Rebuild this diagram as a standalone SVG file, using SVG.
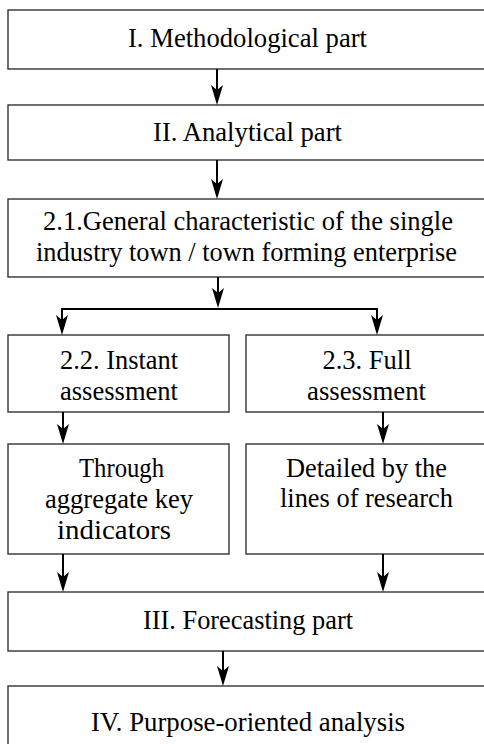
<svg xmlns="http://www.w3.org/2000/svg" width="484" height="744" viewBox="0 0 484 744">
<defs>
<style>
.box{fill:#fff;stroke:#333;stroke-width:1.4}
.t{font-family:'Liberation Serif','Times New Roman',serif;font-size:26.5px;fill:#000;text-anchor:middle}
.c{fill:none;stroke:#000;stroke-width:2}
</style>
<marker id="ah" viewBox="-14 -7 23 14" refX="0" refY="0" markerWidth="23" markerHeight="14" markerUnits="userSpaceOnUse" orient="auto">
<path d="M8,0 L-12,-6 L-7,0 L-12,6 Z" fill="#000"/>
</marker>
</defs>
<rect x="0" y="0" width="484" height="744" fill="#fff"/>
<g font-family="Liberation Serif, serif">
<g id="n1">
<rect class="box" x="8" y="10" width="480" height="59"/>
<text class="t" x="247.5" y="46.5" textLength="239" lengthAdjust="spacingAndGlyphs">I. Methodological part</text>
</g>
<g id="n2">
<rect class="box" x="8" y="105" width="480" height="55"/>
<text class="t" x="247.5" y="140.5" textLength="189" lengthAdjust="spacingAndGlyphs">II. Analytical part</text>
</g>
<g id="n21">
<rect class="box" x="8" y="199" width="480" height="78"/>
<text class="t" x="248" y="230" textLength="410" lengthAdjust="spacingAndGlyphs">2.1.General characteristic of the single</text>
<text class="t" x="246.5" y="261" textLength="421" lengthAdjust="spacingAndGlyphs">industry town / town forming enterprise</text>
</g>
<g id="n22">
<rect class="box" x="8" y="335" width="221" height="77"/>
<text class="t" x="119" y="369" textLength="118" lengthAdjust="spacingAndGlyphs">2.2. Instant</text>
<text class="t" x="119" y="400" textLength="118" lengthAdjust="spacingAndGlyphs">assessment</text>
</g>
<g id="n23">
<rect class="box" x="246" y="335" width="242" height="77"/>
<text class="t" x="367" y="369" textLength="89" lengthAdjust="spacingAndGlyphs">2.3. Full</text>
<text class="t" x="366.5" y="400" textLength="119" lengthAdjust="spacingAndGlyphs">assessment</text>
</g>
<g id="n22a">
<rect class="box" x="8" y="444" width="221" height="110"/>
<text class="t" x="121.5" y="477" textLength="85" lengthAdjust="spacingAndGlyphs">Through</text>
<text class="t" x="119" y="508" textLength="148" lengthAdjust="spacingAndGlyphs">aggregate key</text>
<text class="t" x="114" y="539" textLength="114" lengthAdjust="spacingAndGlyphs">indicators</text>
</g>
<g id="n23a">
<rect class="box" x="246" y="444" width="242" height="110"/>
<text class="t" x="366.5" y="476.5" textLength="161" lengthAdjust="spacingAndGlyphs">Detailed by the</text>
<text class="t" x="366.5" y="507" textLength="173" lengthAdjust="spacingAndGlyphs">lines of research</text>
</g>
<g id="n3">
<rect class="box" x="8" y="592" width="480" height="59"/>
<text class="t" x="248" y="629" textLength="210" lengthAdjust="spacingAndGlyphs">III. Forecasting part</text>
</g>
<g id="n4">
<rect class="box" x="8" y="686" width="480" height="70"/>
<text class="t" x="248" y="731" textLength="314" lengthAdjust="spacingAndGlyphs">IV. Purpose-oriented analysis</text>
</g>
</g>
<g id="connectors">
<line class="c" x1="217" y1="69" x2="217" y2="97" marker-end="url(#ah)"/>
<line class="c" x1="217" y1="160" x2="217" y2="191" marker-end="url(#ah)"/>
<line class="c" x1="218" y1="277" x2="218" y2="300" marker-end="url(#ah)"/>
<line class="c" x1="62" y1="309" x2="377" y2="309"/>
<line class="c" x1="62" y1="308" x2="62" y2="327" marker-end="url(#ah)"/>
<line class="c" x1="377" y1="308" x2="377" y2="327" marker-end="url(#ah)"/>
<line class="c" x1="63" y1="412" x2="63" y2="436" marker-end="url(#ah)"/>
<line class="c" x1="383" y1="412" x2="383" y2="436" marker-end="url(#ah)"/>
<line class="c" x1="63" y1="554" x2="63" y2="584" marker-end="url(#ah)"/>
<line class="c" x1="383" y1="554" x2="383" y2="584" marker-end="url(#ah)"/>
<line class="c" x1="223" y1="651" x2="223" y2="678" marker-end="url(#ah)"/>
</g>
</svg>
